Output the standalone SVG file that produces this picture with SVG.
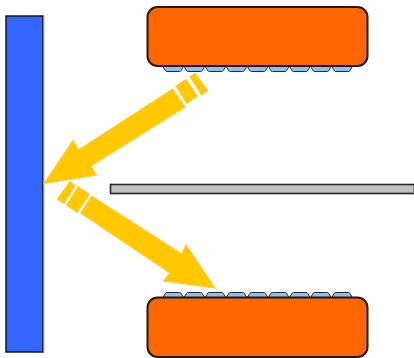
<svg xmlns="http://www.w3.org/2000/svg" width="414" height="358" viewBox="0 0 414 358">
<style>
.block{fill:#ff6600;stroke:#1a1a1a;stroke-width:2}
.key{fill:#8cc2f2;stroke:#2b2b2b;stroke-width:1}
.arrow{fill:#ffc800;stroke:#ffcc33;stroke-width:1.200;stroke-linejoin:miter}
</style>
<defs>
<filter id="soft" x="-5%" y="-5%" width="110%" height="110%"><feGaussianBlur stdDeviation="0.4"/></filter>
<path id="k" class="key" d="M0 5.500 L2.500 1.200 Q3 0.500 4 0.500 H16.500 Q17.500 0.500 18 1.200 L20.500 5.500 Z"/>
<path id="kd" class="key" d="M0 0 L2.500 4.300 Q3 5 4 5 H16.500 Q17.500 5 18 4.300 L20.500 0 Z"/>
</defs>
<rect width="414" height="358" fill="#fff"/>
<g filter="url(#soft)">
<g id="wall"><rect x="6" y="16" width="37" height="336" fill="#3366ff" stroke="#1a1a1a" stroke-width="1.500"/><line x1="43.800" y1="16" x2="43.800" y2="352" stroke="#999" stroke-width="1"/></g>
<g id="bar"><rect x="110.500" y="184.500" width="304" height="9" fill="#bfbfbf" stroke="#262626" stroke-width="1.600"/></g>
<g id="top-block">
<use href="#kd" x="163" y="66.500"/><use href="#kd" x="184.100" y="66.500"/><use href="#kd" x="205.200" y="66.500"/><use href="#kd" x="226.300" y="66.500"/><use href="#kd" x="247.400" y="66.500"/><use href="#kd" x="268.500" y="66.500"/><use href="#kd" x="289.600" y="66.500"/><use href="#kd" x="310.700" y="66.500"/><use href="#kd" x="331.800" y="66.500"/>
<rect class="block" x="147.500" y="7" width="220" height="59" rx="10"/>
</g>
<g id="bottom-block">
<use href="#k" x="163" y="292"/><use href="#k" x="184.100" y="292"/><use href="#k" x="205.200" y="292"/><use href="#k" x="226.300" y="292"/><use href="#k" x="247.400" y="292"/><use href="#k" x="268.500" y="292"/><use href="#k" x="289.600" y="292"/><use href="#k" x="310.700" y="292"/><use href="#k" x="331.800" y="292"/>
<rect class="block" x="147.500" y="297.500" width="220" height="59.500" rx="10"/>
</g>
<g id="connectors">
<path class="arrow" d="M44 183.500 L73 140.500 L78.500 150 L172.700 89 L185 107 L91 166 L96.500 175 Z"/>
<path class="arrow" d="M176 86 L186 79.500 L197.300 96 L186.700 103.300 Z"/>
<path class="arrow" d="M190 76.700 L195 73.300 L207.700 90.700 L201.700 95 Z"/>
<path class="arrow" d="M215 288 L186 245 L181.700 254 L91.700 196 L80.700 213 L170 273 L163.500 281 Z"/>
<path class="arrow" d="M78.300 186.700 L89.300 194.300 L77 212.300 L66.700 205 Z"/>
<path class="arrow" d="M70 181.500 L75 185.700 L64 203.300 L57.300 199 Z"/>
</g>
</g>
</svg>
